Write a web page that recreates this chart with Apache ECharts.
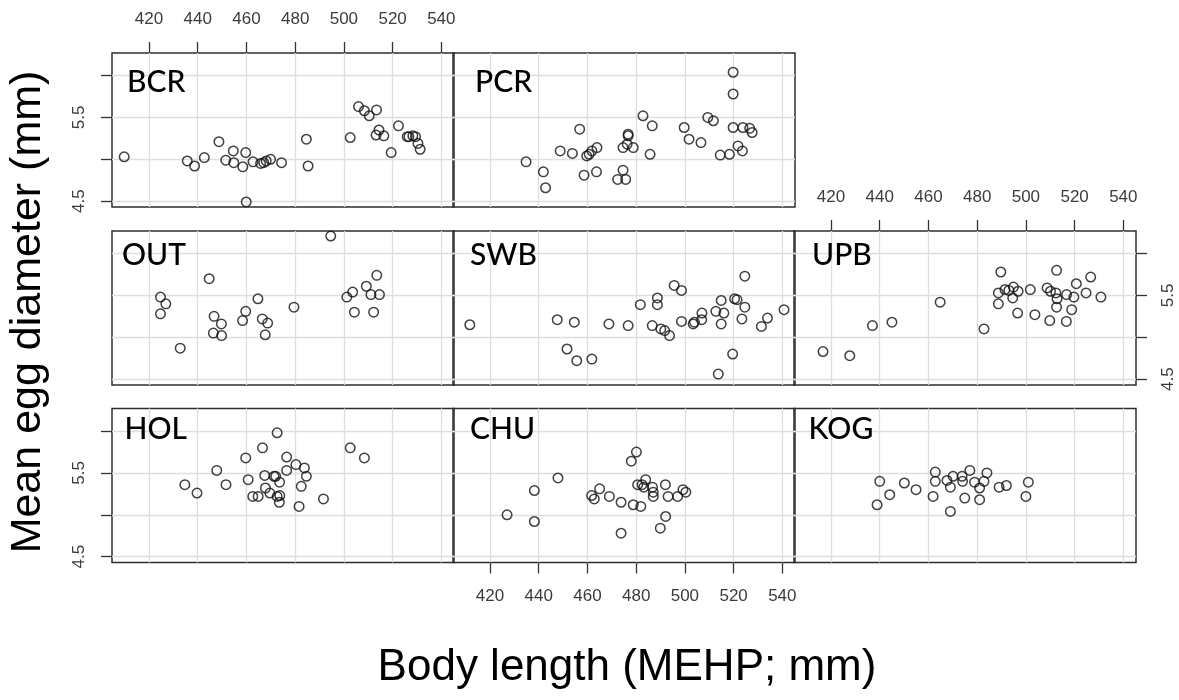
<!DOCTYPE html>
<html>
<head>
<meta charset="utf-8">
<script src="https://cdn.jsdelivr.net/npm/echarts@6/dist/echarts.min.js"></script>
<style>
  html, body { margin: 0; padding: 0; background: #fff; }
  #chart { width: 1179px; height: 700px; }
</style>
</head>
<body>
<div id="chart"></div>
<script>
// Populations, one panel each
const populations = ['BCR', 'PCR', 'OUT', 'SWB', 'UPB', 'HOL', 'CHU', 'KOG'];

// Tick positions and labelled ticks
const xTicks = [420, 440, 460, 480, 500, 520, 540];
const yTicks = [4.5, 5.0, 5.5, 6.0];
const yTickLabels = [4.5, 5.5];

// [body length (mm), mean egg diameter (mm)] per fish
const BCR = [[409.8,5.03],[435.7,4.98],[438.7,4.92],[442.7,5.02],[448.7,5.21],[451.5,4.99],[454.6,5.10],[454.8,4.96],[458.5,4.91],[459.7,5.08],[462.7,4.97],[465.8,4.95],[467.1,4.96],[468.1,4.98],[469.9,5.00],[474.4,4.96],[459.9,4.49],[484.6,5.24],[485.3,4.92],[502.6,5.26],[506.0,5.63],[508.4,5.58],[510.4,5.52],[513.4,5.59],[514.4,5.35],[513.2,5.29],[516.4,5.28],[519.4,5.08],[522.4,5.40],[526.0,5.27],[526.7,5.27],[528.3,5.28],[529.4,5.27],[530.4,5.19],[531.3,5.12]];
const PCR = [[434.8,4.97],[441.9,4.85],[442.8,4.66],[448.8,5.10],[453.8,5.07],[456.8,5.36],[458.6,4.81],[459.7,5.04],[460.7,5.06],[461.8,5.10],[463.9,5.14],[463.7,4.85],[472.4,4.76],[475.7,4.76],[474.6,4.87],[474.6,5.14],[476.3,5.18],[476.7,5.28],[476.7,5.30],[478.8,5.14],[482.8,5.52],[485.7,5.06],[486.6,5.40],[499.7,5.38],[501.7,5.24],[506.6,5.20],[509.4,5.50],[511.7,5.46],[514.5,5.05],[518.3,5.06],[519.8,6.04],[519.8,5.78],[519.8,5.38],[523.8,5.38],[521.8,5.16],[523.6,5.10],[526.6,5.37],[527.6,5.32]];
const OUT = [[494.6,6.21],[424.7,5.48],[426.9,5.40],[424.7,5.28],[432.8,4.87],[444.7,5.70],[446.7,5.25],[449.7,5.16],[446.4,5.05],[449.8,5.02],[459.7,5.31],[458.4,5.20],[464.7,5.46],[466.5,5.22],[468.7,5.17],[467.7,5.03],[479.5,5.36],[501.2,5.48],[503.6,5.54],[504.3,5.30],[509.2,5.61],[513.5,5.74],[511.1,5.51],[514.6,5.51],[512.2,5.30]];
const SWB = [[411.7,5.15],[447.6,5.21],[454.6,5.18],[451.6,4.86],[455.6,4.72],[461.8,4.74],[468.8,5.16],[476.7,5.14],[481.7,5.39],[488.7,5.47],[488.7,5.39],[486.6,5.14],[490.1,5.10],[491.7,5.08],[493.7,5.02],[495.6,5.62],[498.6,5.56],[498.6,5.19],[503.4,5.16],[503.9,5.18],[506.9,5.21],[507.0,5.29],[512.7,5.31],[514.9,5.44],[516.0,5.29],[514.9,5.16],[513.7,4.56],[519.6,4.80],[520.4,5.46],[521.4,5.45],[524.6,5.73],[524.6,5.36],[523.4,5.22],[531.4,5.13],[533.9,5.23],[540.7,5.33]];
const UPB = [[416.7,4.83],[427.7,4.78],[437.0,5.14],[445.0,5.18],[464.8,5.42],[482.8,5.10],[489.7,5.78],[488.7,5.53],[488.7,5.40],[491.4,5.57],[493.0,5.56],[494.9,5.60],[494.6,5.47],[496.8,5.55],[496.6,5.29],[501.8,5.57],[503.7,5.27],[508.7,5.59],[510.1,5.55],[509.8,5.20],[512.6,5.80],[512.3,5.53],[512.8,5.46],[512.6,5.36],[516.7,5.51],[516.6,5.19],[519.7,5.48],[518.8,5.33],[520.7,5.64],[524.7,5.53],[526.6,5.72],[530.8,5.48]];
const HOL = [[434.7,5.36],[439.7,5.26],[447.8,5.53],[451.6,5.36],[459.7,5.68],[460.7,5.42],[466.6,5.80],[467.5,5.47],[467.8,5.32],[462.6,5.22],[464.8,5.22],[469.6,5.26],[471.3,5.46],[472.0,5.46],[473.6,5.39],[472.6,5.98],[472.6,5.22],[473.5,5.15],[473.7,5.23],[476.5,5.69],[476.5,5.53],[480.3,5.60],[483.8,5.56],[484.6,5.46],[482.5,5.34],[481.6,5.10],[491.6,5.19],[502.6,5.80],[508.4,5.68]];
const CHU = [[427.0,5.00],[438.2,5.29],[438.2,4.92],[447.9,5.44],[461.7,5.23],[462.8,5.19],[465.0,5.31],[469.0,5.22],[473.8,5.15],[473.8,4.78],[478.8,5.12],[481.9,5.10],[478.0,5.64],[480.1,5.75],[480.6,5.36],[482.4,5.36],[483.9,5.42],[483.1,5.33],[486.7,5.33],[487.0,5.27],[487.0,5.22],[492.0,5.36],[493.1,5.22],[492.1,4.98],[489.9,4.84],[497.0,5.22],[499.2,5.30],[500.4,5.27]];
const KOG = [[440.0,5.40],[438.9,5.12],[444.1,5.24],[450.1,5.38],[454.9,5.30],[461.9,5.22],[462.8,5.51],[462.8,5.40],[467.6,5.41],[469.0,5.33],[470.1,5.46],[469.0,5.04],[473.8,5.46],[474.0,5.40],[474.9,5.20],[477.0,5.53],[478.9,5.39],[481.0,5.32],[481.0,5.18],[482.8,5.40],[484.0,5.50],[489.0,5.33],[492.0,5.35],[501.0,5.39],[500.0,5.22]];

const dataByPop = { BCR, PCR, OUT, SWB, UPB, HOL, CHU, KOG };

// Shared scales (data range padded on both sides)
const X_MIN = 404.8, X_MAX = 545.2;
const Y_MIN = 4.43, Y_MAX = 6.27;

// Panel grid geometry
const colLeft = [112, 453, 794];
const rowTop = [53, 231, 408.5];
const panelW = 342, panelH = 154;

// column / row of each panel, and where its axis labels go
const panelSpec = {
  BCR: { col: 0, row: 0, xSide: 'top',    ySide: 'left',  labelDx: 15 },
  PCR: { col: 1, row: 0, xSide: null,     ySide: null,    labelDx: 22 },
  OUT: { col: 0, row: 1, xSide: null,     ySide: null,    labelDx: 10 },
  SWB: { col: 1, row: 1, xSide: null,     ySide: null,    labelDx: 17 },
  UPB: { col: 2, row: 1, xSide: 'top',    ySide: 'right', labelDx: 18 },
  HOL: { col: 0, row: 2, xSide: null,     ySide: 'left',  labelDx: 12.5 },
  CHU: { col: 1, row: 2, xSide: 'bottom', ySide: null,    labelDx: 17 },
  KOG: { col: 2, row: 2, xSide: null,     ySide: null,    labelDx: 14.5 }
};
const labelDyByRow = [29, 24, 20.5];

const tickFont = { fontFamily: 'Liberation Sans, Arial, sans-serif', fontSize: 17, color: '#3c3c3c' };
const gridLine = { show: true, lineStyle: { color: '#dedede', width: 1.3 } };
const tickLine = { color: '#333', width: 1.3 };

const grids = [], xAxes = [], yAxes = [], series = [], graphics = [];

populations.forEach((pop, i) => {
  const s = panelSpec[pop];
  const left = colLeft[s.col], top = rowTop[s.row];
  grids.push({
    left: left, top: top, width: panelW, height: panelH,
    show: true, borderColor: '#2e2e2e', borderWidth: 1.5, backgroundColor: 'transparent',
    containLabel: false, outerBoundsMode: 'none'
  });
  xAxes.push({
    gridIndex: i, type: 'value', min: X_MIN, max: X_MAX, splitNumber: 7,
    position: s.xSide || 'bottom',
    axisLine: { show: false },
    axisTick: { show: !!s.xSide, customValues: xTicks, length: 11, inside: false, lineStyle: tickLine },
    axisLabel: Object.assign({ show: !!s.xSide, customValues: xTicks, margin: 25 }, tickFont),
    splitLine: gridLine
  });
  yAxes.push({
    gridIndex: i, type: 'value', min: Y_MIN, max: Y_MAX, splitNumber: 4,
    position: s.ySide || 'left',
    axisLine: { show: false },
    axisTick: { show: !!s.ySide, customValues: yTicks, length: 11, inside: false, lineStyle: tickLine },
    axisLabel: Object.assign({ show: !!s.ySide, customValues: yTickLabels, rotate: 90, margin: 24,
      formatter: v => v.toFixed(1) }, tickFont),
    splitLine: gridLine
  });
  series.push({
    name: pop, type: 'scatter', xAxisIndex: i, yAxisIndex: i,
    data: dataByPop[pop],
    symbol: 'circle', symbolSize: 9.5,
    itemStyle: { color: 'rgba(0,0,0,0)', borderColor: '#111', borderWidth: 1.5 },
    silent: true
  });
  // panel caption, drawn above the grid lines
  graphics.push({
    type: 'text', z: 100, left: left + s.labelDx, top: top + labelDyByRow[s.row] - 15,
    style: { text: pop, font: '500 30px Lato, "Open Sans", sans-serif', fill: '#000' }
  });
});

// Axis titles
graphics.push({
  type: 'text', z: 100, x: 627, y: 668,
  style: { text: 'Body length (MEHP; mm)', font: '44px "Liberation Sans", Arial, sans-serif',
           fill: '#000', textAlign: 'center', textVerticalAlign: 'middle' }
});
graphics.push({
  type: 'text', z: 100, x: 28, y: 312, rotation: Math.PI / 2,
  style: { text: 'Mean egg diameter (mm)', font: '43px "Liberation Sans", Arial, sans-serif',
           fill: '#000', textAlign: 'center', textVerticalAlign: 'middle' }
});

const chart = echarts.init(document.getElementById('chart'), null, { renderer: 'canvas' });
chart.setOption({
  animation: false,
  backgroundColor: '#fff',
  grid: grids,
  xAxis: xAxes,
  yAxis: yAxes,
  series: series,
  graphic: graphics
});
</script>
</body>
</html>
